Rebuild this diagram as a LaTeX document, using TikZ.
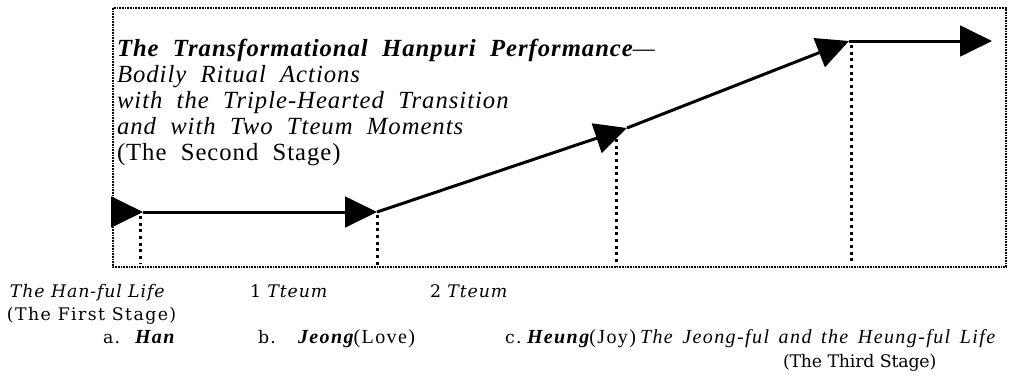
\documentclass[tikz,border=0pt]{standalone}
\usepackage{fontspec}
\setmainfont{Liberation Serif}
\newfontfamily\ttl{Liberation Serif}[LetterSpace=4,WordSpace=2]
\newfontfamily\tmb{Liberation Serif}[LetterSpace=7,WordSpace=1.5]
\newfontfamily\bat{DejaVu Serif}[LetterSpace=8]
\newfontfamily\batn{DejaVu Serif}[LetterSpace=5]
\newfontfamily\batt{DejaVu Serif}[LetterSpace=-1]
\usetikzlibrary{arrows.meta}
\begin{document}
\begin{tikzpicture}[x=0.75pt,y=-0.75pt,
  flow/.style={line width=2.25pt,-{Triangle[length=24pt,width=23pt]}},
  guide/.style={line width=2.25pt,dash pattern=on 2.2pt off 2.8pt},
  frame/.style={line width=0.8pt,dash pattern=on 1.2pt off 0.8pt},
  lbl/.style={anchor=base west,inner sep=0pt,outer sep=0pt},
  ttlfont/.style={font=\fontsize{18.5pt}{20pt}\selectfont\ttl},
  batfont/.style={font=\fontsize{13pt}{17pt}\selectfont\bat},
  batnfont/.style={font=\fontsize{13pt}{17pt}\selectfont\batn},
  battfont/.style={font=\fontsize{13pt}{17pt}\selectfont\batt},
  tmbfont/.style={font=\fontsize{15pt}{17pt}\selectfont\tmb}]
\useasboundingbox (0,0) rectangle (1011,383);
% frame
\draw[frame] (113,8) rectangle (1006,267);
% path points
\coordinate (p0) at (111,212);
\coordinate (p1) at (143,212);
\coordinate (p2) at (377,212);
\coordinate (p3) at (627,128);
\coordinate (p4) at (849,41);
\coordinate (p5) at (992,41);
% guides
\coordinate (g1t) at (140,216); \coordinate (g1b) at (140,263);
\coordinate (g2t) at (377,215); \coordinate (g2b) at (377,267);
\coordinate (g3t) at (616,139); \coordinate (g3b) at (616,267);
\coordinate (g4t) at (851,45);  \coordinate (g4b) at (851,262);
\draw[guide] (g1t) -- (g1b);
\draw[guide] (g2t) -- (g2b);
\draw[guide] (g3t) -- (g3b);
\draw[guide] (g4t) -- (g4b);
% arrows
\draw[flow] (p0) -- (p1);
\draw[flow] (p1) -- (p2);
\draw[flow] (p2) -- (p3);
\draw[flow] (p3) -- (p4);
\draw[flow] (p4) -- (p5);
% title block
\node[lbl,ttlfont] (t1) at (117,56) {\bfseries\itshape The Transformational Hanpuri Performance{\mdseries —}};
\node[lbl,ttlfont] (t2) at (117,82) {\itshape Bodily Ritual Actions};
\node[lbl,ttlfont] (t3) at (117,108) {\itshape with the Triple-Hearted Transition};
\node[lbl,ttlfont] (t4) at (117,134) {\itshape and with Two Tteum Moments};
\node[lbl,ttlfont] (t5) at (117,160) {(The Second Stage)};
% bottom labels
\node[lbl,batnfont] (b1) at (10,297) {\itshape The Han-ful Life};
\node[lbl,batnfont] (b2) at (250,297) {1 \itshape Tteum};
\node[lbl,batnfont] (b3) at (430,297) {2 \itshape Tteum};
\node[lbl,batfont] (b4) at (7,320) {(The First Stage)};
\node[lbl,batfont] (la) at (103,343) {a.};
\node[lbl,tmbfont] (han) at (135,343) {\bfseries\itshape Han};
\node[lbl,batfont] (lb) at (258,343) {b.};
\node[lbl,tmbfont] (jeong) at (298,343) {{\bfseries\itshape Jeong}(Love)};
\node[lbl,batfont] (lc) at (505,343) {c.};
\node[lbl,tmbfont] (heung) at (527,343) {{\bfseries\itshape Heung}(Joy)};
\node[lbl,tmbfont] (life) at (640,343) {\itshape The Jeong-ful and the Heung-ful Life};
\node[lbl,battfont] (third) at (783,367) {(The Third Stage)};
\end{tikzpicture}
\end{document}
